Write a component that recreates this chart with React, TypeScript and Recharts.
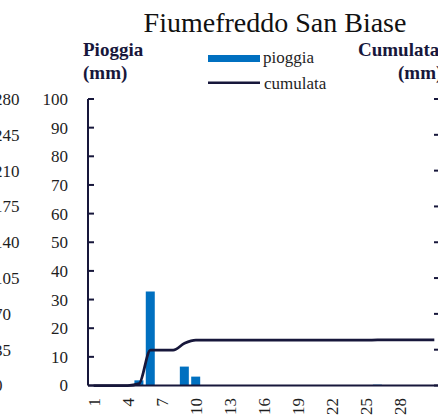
import { ComposedChart, Bar, Line, XAxis, YAxis } from 'recharts';

const days = [
  '1', '2', '3', '4', '5', '6', '7', '8', '9', '10', '11', '12', '13', '14', '15', '16',
  '17', '18', '19', '20', '21', '22', '23', '24', '25', '26', '27', '28', '29', '30', '31',
];
const pioggia = [
  0, 0, 0, 0, 1.8, 32.8, 0, 0, 6.6, 3.1, 0, 0, 0, 0, 0, 0,
  0, 0, 0, 0, 0, 0, 0, 0, 0, 0.3, 0, 0, 0, 0, 0,
];
const cumulata = [
  0, 0, 0, 0, 1.8, 34.6, 34.6, 34.6, 41.2, 44.3, 44.3, 44.3, 44.3, 44.3, 44.3, 44.3,
  44.3, 44.3, 44.3, 44.3, 44.3, 44.3, 44.3, 44.3, 44.3, 44.6, 44.6, 44.6, 44.6, 44.6, 44.6,
];
const xTickLabels = ['1', '4', '7', '10', '13', '16', '19', '22', '25', '28'];
const leftTicks = [0, 10, 20, 30, 40, 50, 60, 70, 80, 90, 100];
// right axis of this chart and of the neighbouring chart cut at the left edge share this scale
const rightTicks = [0, 35, 70, 105, 140, 175, 210, 245, 280];

const NAVY = '#17173b';
const BLUE = '#0070c0';
const FONT = '"Liberation Serif", "Times New Roman", serif';
const LABEL = '#1e1e1e';

const data = days.map((d, i) => ({ day: d, pioggia: pioggia[i], cumulata: cumulata[i] }));

function LeftTick(props: any) {
  const { x, y, payload } = props;
  return (
    <g>
      <line x1={x + 20} x2={x + 26} y1={y} y2={y} stroke={NAVY} strokeWidth={2} />
      <text x={x} y={y} dy="0.35em" textAnchor="end" fontFamily={FONT} fontSize={17} fill={LABEL}>
        {payload.value}
      </text>
    </g>
  );
}

// left-aligned labels of the previous chart's right axis, partly off the picture
function PrevTick(props: any) {
  const { x, y, payload } = props;
  return (
    <text x={x - 27} y={y} dy="0.35em" textAnchor="start" fontFamily={FONT} fontSize={17} fill={LABEL}>
      {payload.value}
    </text>
  );
}

// labels of the right axis fall outside the cropped picture, only the inside marks show
function RightTick(props: any) {
  const { x, y } = props;
  return <line x1={x - 12} x2={x - 6} y1={y} y2={y} stroke={NAVY} strokeWidth={2} />;
}

function DayTick(props: any) {
  const { x, y, payload } = props;
  if (!xTickLabels.includes(payload.value)) return <g />;
  const ty = y + 12.5;
  return (
    <text
      x={x}
      y={ty}
      dy="0.35em"
      textAnchor="end"
      transform={`rotate(-90 ${x} ${ty})`}
      fontFamily={FONT}
      fontSize={17}
      fill={LABEL}
    >
      {payload.value}
    </text>
  );
}

export default function App() {
  return (
    <div
      style={{
        position: 'absolute',
        left: 0,
        top: 0,
        width: 438,
        height: 416,
        overflow: 'hidden',
        background: '#fff',
      }}
    >
      <ComposedChart
        width={480}
        height={440}
        data={data}
        margin={{ top: 99, right: 0, left: 0, bottom: 0 }}
      >
        <XAxis
          dataKey="day"
          interval={0}
          height={54.5}
          tickLine={false}
          tickSize={0}
          tickMargin={0}
          axisLine={{ stroke: NAVY, strokeWidth: 2 }}
          tick={<DayTick />}
        />
        <YAxis
          yAxisId="left"
          orientation="left"
          width={67}
          domain={[0, 100]}
          ticks={leftTicks}
          interval={0}
          tickLine={false}
          tickSize={0}
          tickMargin={20}
          axisLine={{ stroke: NAVY, strokeWidth: 2 }}
          tick={<LeftTick />}
        />
        <YAxis
          yAxisId="prev"
          orientation="left"
          width={21}
          domain={[0, 280]}
          ticks={rightTicks}
          interval={0}
          tickLine={false}
          tickSize={0}
          tickMargin={0}
          axisLine={false}
          tick={<PrevTick />}
        />
        <YAxis
          yAxisId="right"
          orientation="right"
          width={40}
          domain={[0, 280]}
          ticks={rightTicks}
          interval={0}
          tickLine={false}
          tickSize={0}
          tickMargin={6}
          axisLine={{ stroke: NAVY, strokeWidth: 2 }}
          tick={<RightTick />}
        />
        <Bar yAxisId="left" dataKey="pioggia" fill={BLUE} barSize={9} isAnimationActive={false} />
        <Line
          yAxisId="prev"
          dataKey="cumulata"
          stroke="none"
          dot={false}
          activeDot={false}
          isAnimationActive={false}
        />
        <Line
          yAxisId="right"
          type="monotone"
          dataKey="cumulata"
          stroke={NAVY}
          strokeWidth={2.75}
          dot={false}
          isAnimationActive={false}
        />
      </ComposedChart>
      <svg
        width={438}
        height={416}
        style={{ position: 'absolute', left: 0, top: 0, pointerEvents: 'none' }}
      >
        <text x={275} y={31.5} textAnchor="middle" fontFamily={FONT} fontSize={28} fill="#111">
          Fiumefreddo San Biase
        </text>
        <text x={83} y={55.5} fontFamily={FONT} fontSize={19} fontWeight="bold" fill={NAVY}>
          Pioggia
        </text>
        <text x={83} y={79} fontFamily={FONT} fontSize={19} fontWeight="bold" fill={NAVY}>
          (mm)
        </text>
        <text x={358} y={55.5} fontFamily={FONT} fontSize={19} fontWeight="bold" fill={NAVY}>
          Cumulata
        </text>
        <text x={398} y={79} fontFamily={FONT} fontSize={19} fontWeight="bold" fill={NAVY}>
          (mm)
        </text>
        <rect x={208} y={55} width={52} height={7} fill={BLUE} />
        <text x={263} y={63} fontFamily={FONT} fontSize={17} fill={LABEL}>
          pioggia
        </text>
        <line x1={208} x2={260} y1={82.7} y2={82.7} stroke={NAVY} strokeWidth={2.5} />
        <text x={264} y={89} fontFamily={FONT} fontSize={17} fill={LABEL}>
          cumulata
        </text>
      </svg>
    </div>
  );
}
